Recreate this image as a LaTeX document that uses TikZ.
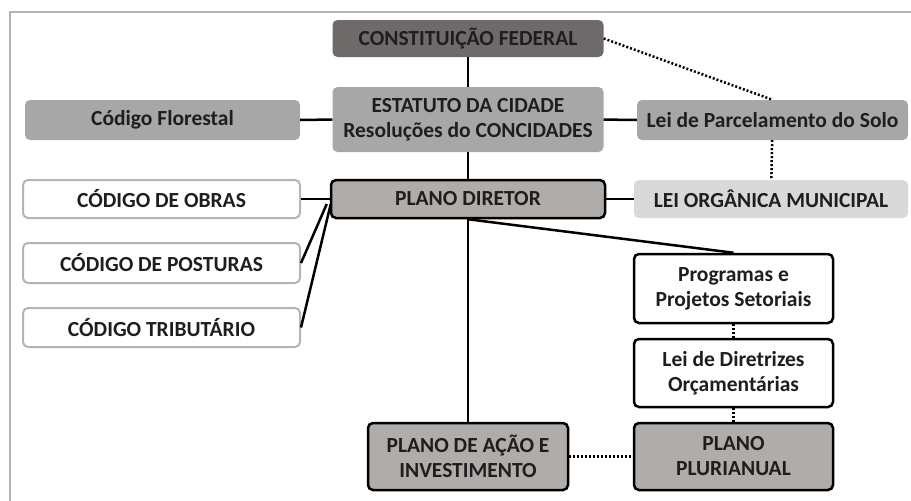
\documentclass[tikz,border=0pt]{standalone}
\usepackage{fontspec}
\setmainfont{Carlito}
\usetikzlibrary{calc}

\definecolor{fedgray}{HTML}{6E6A69}
\definecolor{midgray}{HTML}{A7A7A7}
\definecolor{plangray}{HTML}{B0ACAA}
\definecolor{lightgray}{HTML}{D9D9D9}
\definecolor{rimgray}{HTML}{B4B4B4}
\definecolor{inkgray}{HTML}{1E1E1E}

\tikzset{
  box/.style={rounded corners=5pt, align=center, inner sep=0pt, text=inkgray,
    font=\fontsize{21.5}{25}\selectfont\bfseries},
  fedbox/.style={box, fill=fedgray},
  graybox/.style={box, fill=midgray},
  planbox/.style={box, fill=plangray, draw=black, line width=2.5pt},
  lightbox/.style={box, fill=lightgray},
  codebox/.style={box, fill=white, draw=rimgray, line width=2pt},
  whitebox/.style={box, fill=white, draw=black, line width=2.5pt},
  link/.style={line width=2.5pt},
  dotlink/.style={line width=2.5pt, dash pattern=on 2pt off 2pt}
}

\begin{document}
\begin{tikzpicture}[x=1pt, y=-1pt]
\useasboundingbox (0,0) rectangle (911,501);
% moldura
\draw[rimgray, line width=2pt] (911,12) -- (10,12) -- (10,501);

% caixas
\node[fedbox, minimum width=271, minimum height=37] (cf) at (468,38.5) {CONSTITUIÇÃO FEDERAL};
\node[graybox, minimum width=271, minimum height=65] (estatuto) at (468,119.5) {ESTATUTO DA CIDADE\\Resoluções do CONCIDADES};
\node[graybox, minimum width=275, minimum height=40] (florestal) at (162.5,120) {Código Florestal};
\node[graybox, minimum width=271, minimum height=40] (parcel) at (772.5,120) {Lei de Parcelamento do Solo};

\node[codebox, minimum width=277, minimum height=38] (obras) at (161.5,199) {CÓDIGO DE OBRAS};
\node[planbox, minimum width=274, minimum height=38] (pd) at (468,199) {PLANO DIRETOR};
\node[lightbox, minimum width=274, minimum height=38] (organica) at (771,199) {LEI ORGÂNICA MUNICIPAL};
\node[codebox, minimum width=277, minimum height=40] (posturas) at (161.5,263) {CÓDIGO DE POSTURAS};
\node[codebox, minimum width=277, minimum height=39] (tributario) at (161.5,327.5) {CÓDIGO TRIBUTÁRIO};

\node[whitebox, minimum width=199, minimum height=69] (programas) at (733.5,288.5) {Programas e\\Projetos Setoriais};
\node[whitebox, minimum width=199, minimum height=68] (diretrizes) at (733.5,373) {Lei de Diretrizes\\Orçamentárias};
\node[planbox, minimum width=200, minimum height=67] (acao) at (468,456.5) {PLANO DE AÇÃO E\\INVESTIMENTO};
\node[planbox, minimum width=199, minimum height=67] (ppa) at (733.5,456.5) {PLANO\\PLURIANUAL};

% ligacoes
\coordinate (fanA) at ($(pd.west)+(-3,5)$);
\coordinate (fanB) at ($(pd.west)+(1,5)$);
\draw[link] (cf) -- (estatuto);
\draw[link] (estatuto) -- (pd);
\draw[link] (pd) -- (acao);
\draw[link] (florestal) -- (estatuto);
\draw[link] (estatuto) -- (parcel);
\draw[link] (obras) -- (pd);
\draw[link] (pd) -- (organica);
\draw[link] (fanA) -- (posturas.east);
\draw[link] (fanB) -- (tributario.east);
\draw[link] (pd.south) -- (programas.north);
\draw[dotlink] (cf.east) -- (parcel.north);
\draw[dotlink] (parcel) -- (organica);
\draw[dotlink] (programas) -- (diretrizes);
\draw[dotlink] (diretrizes) -- (ppa);
\draw[dotlink] (acao) -- (ppa);
\end{tikzpicture}
\end{document}
